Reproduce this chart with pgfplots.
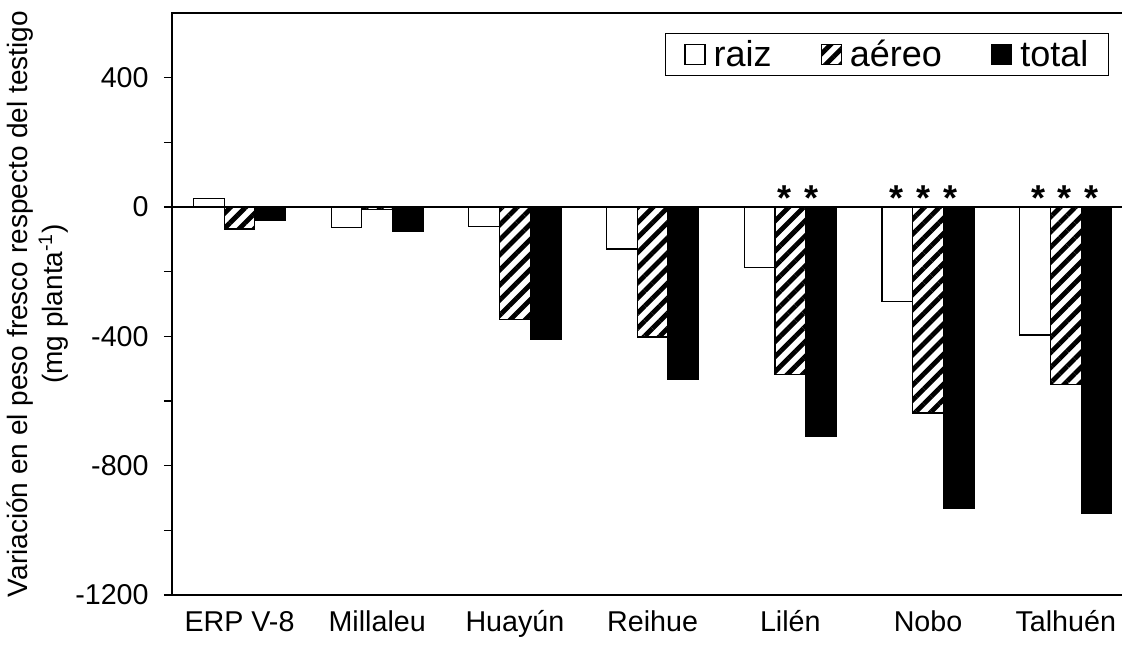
\documentclass[border=0pt]{standalone}
\usepackage{pgfplots}
\pgfplotsset{compat=1.18}
\usepackage{fontspec}
\setmainfont{Liberation Sans}
\usetikzlibrary{patterns.meta}
\begin{document}
\begin{tikzpicture}
\begin{axis}[
  at={(0,0)}, anchor=south west,
  scale only axis,
  width=723pt, height=436.5pt,
  xmin=-0.49, xmax=6.51,
  ymin=-1200, ymax=600,
  xtick={0,1,2,3,4,5,6},
  xticklabels={ERP V-8,Millaleu,Huayún,Reihue,Lilén,Nobo,Talhuén},
  x tick style={draw=none},
  xticklabel style={text height=15pt, text depth=4pt, yshift=-3pt},
  ytick={-1200,-800,-400,0,400},
  minor y tick num=1,
  tick align=outside,
  major tick length=6pt,
  minor tick length=6pt,
  y tick style={black, line width=0.8pt},
  yticklabel style={xshift=-8pt},
  axis line style={black, line width=1.2pt},
  /pgf/number format/assume math mode=true,
  /pgf/number format/1000 sep={},
  tick label style={font=\fontsize{21.5}{25}\selectfont},
  ylabel={Variación en el peso fresco respecto del testigo\\(mg planta\textsuperscript{-1})},
  ylabel style={font=\fontsize{21}{26}\selectfont, align=center, at={(rel axis cs:0,0.5)}, anchor=center, yshift=101pt},
  legend columns=3,
  legend style={at={(rel axis cs:0.972,0.9656)}, anchor=north east, draw=black, line width=0.8pt,
    font=\fontsize{27}{30}\selectfont, inner xsep=14pt, inner ysep=3pt,
    nodes={inner xsep=1pt, inner ysep=2pt},
    /tikz/every even column/.append style={column sep=36pt},
    /tikz/every odd column/.append style={column sep=5pt}},
  legend image code/.code={\draw[#1, line width=0.8pt] (0pt,-7.5pt) rectangle (15pt,7.5pt);},
]
\addplot[ybar, bar width=0.223, bar shift=-0.223, draw=black, line width=0.9pt, fill=white]
  coordinates {(0,27) (1,-64) (2,-60) (3,-130) (4,-187) (5,-293) (6,-396)};
\addlegendentry{raiz}
\addplot[ybar, bar width=0.223, bar shift=0, draw=black, line width=0.9pt,
  pattern={Lines[angle=45, distance=8pt, line width=3.6pt]}]
  coordinates {(0,-68) (1,-8) (2,-348) (3,-402) (4,-517) (5,-637) (6,-550)};
\addlegendentry{aéreo}
\addplot[ybar, bar width=0.223, bar shift=0.223, draw=black, line width=0.9pt, fill=black]
  coordinates {(0,-43) (1,-75) (2,-410) (3,-533) (4,-711) (5,-931) (6,-947)};
\addlegendentry{total}
\addplot[black, line width=1pt, forget plot] coordinates {(-0.49,0) (6.51,0)};
\addplot[only marks, mark=none, forget plot,
  nodes near coords={\textbf{*}},
  every node near coord/.append style={anchor=south, inner sep=0.5pt, yshift=-3pt, font=\fontsize{27}{27}\selectfont}]
  coordinates {(3.96,0) (4.155,0) (4.77,0) (4.97,0) (5.16,0) (5.80,0) (5.99,0) (6.19,0)};
\end{axis}
\pgfresetboundingbox
\useasboundingbox (-129pt,-40.5pt) rectangle (712.5pt,446.25pt);
\end{tikzpicture}
\end{document}
